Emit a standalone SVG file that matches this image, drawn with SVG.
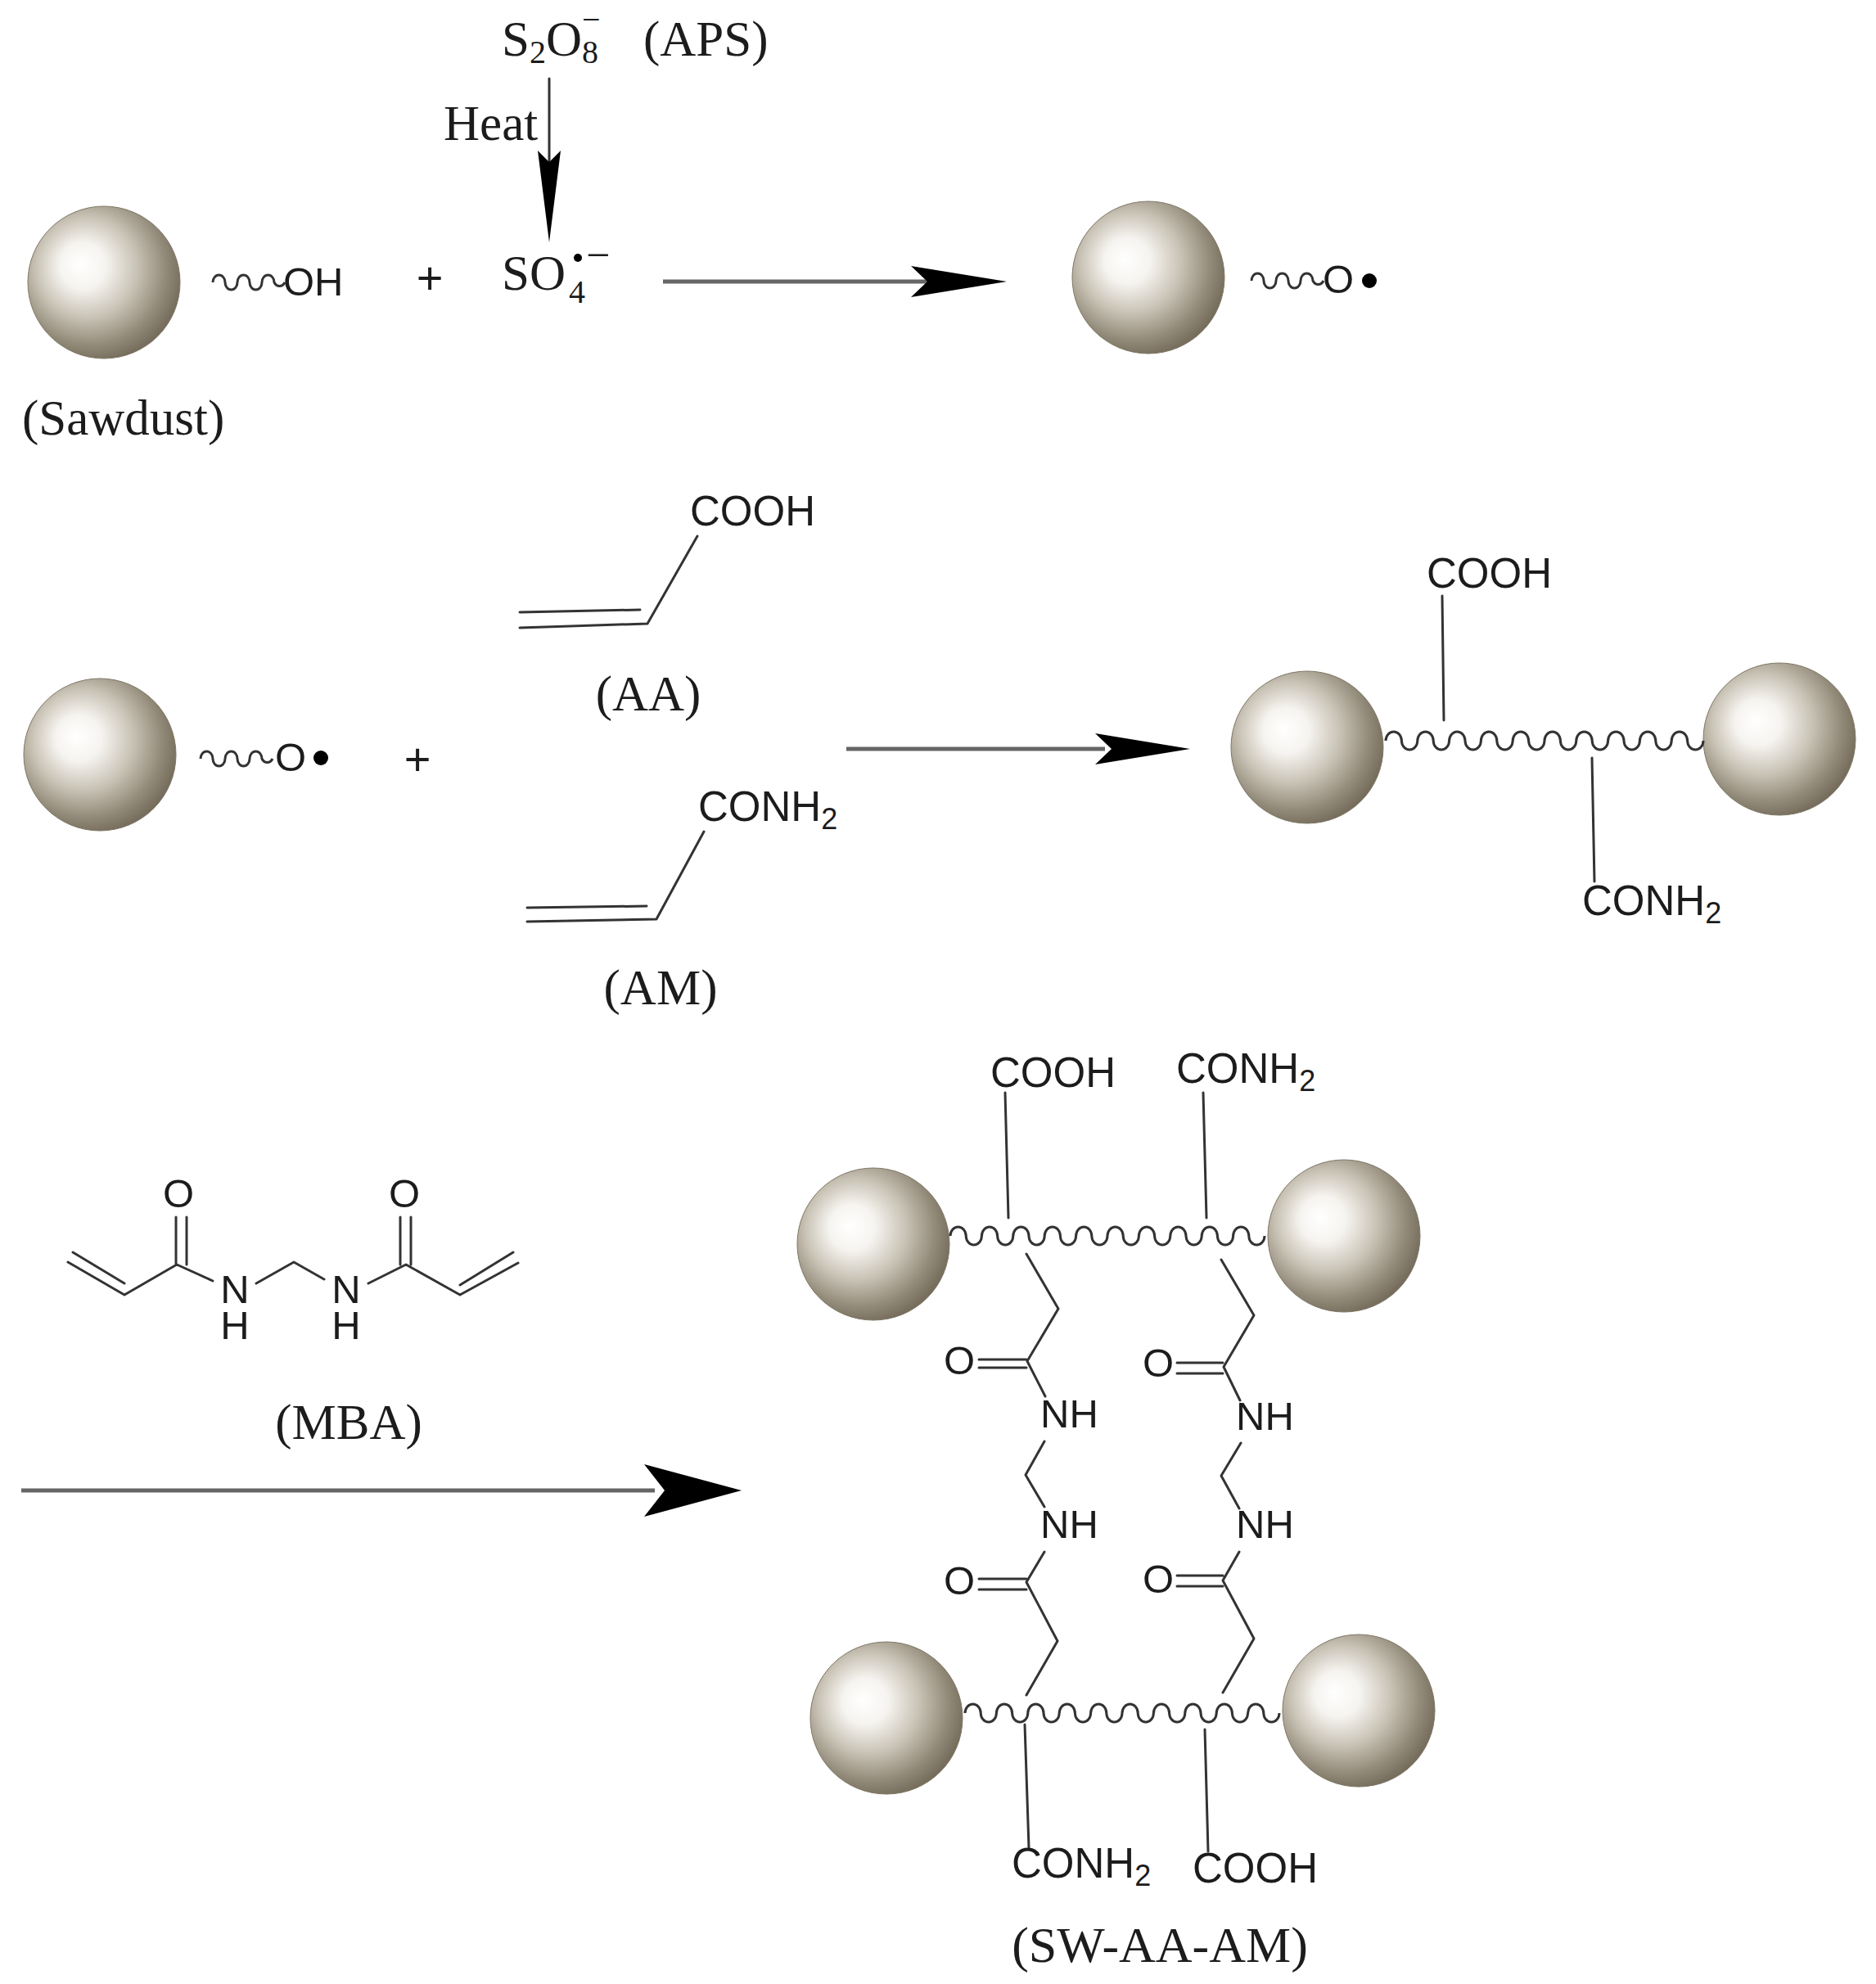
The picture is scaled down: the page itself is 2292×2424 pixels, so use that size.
<svg xmlns="http://www.w3.org/2000/svg" width="2292" height="2424" viewBox="0 0 2292 2424">
<style>
text{fill:#1c1c1c}
.s{font-family:"Liberation Serif","Times New Roman",serif;font-size:61px}
.a{font-family:"Liberation Sans",Arial,sans-serif;font-size:49px}
.ab{font-family:"Liberation Sans",Arial,sans-serif;font-size:51px}
.m{text-anchor:middle}
.ball{fill:url(#g);stroke:#7f7766;stroke-width:1}
.b{fill:none;stroke:#333;stroke-width:3;stroke-linecap:round;stroke-linejoin:round}
.w{fill:none;stroke:#333;stroke-width:3}
.ar{fill:none;stroke:#666;stroke-width:5}
.hd{fill:#000}
.dot{fill:#000}
</style>
<defs>
<radialGradient id="g" cx="0.42" cy="0.42" r="0.6" fx="0.34" fy="0.38">
<stop offset="0" stop-color="#ffffff"/>
<stop offset="0.25" stop-color="#f6f4f0"/>
<stop offset="0.55" stop-color="#c9c3b6"/>
<stop offset="0.82" stop-color="#958d7c"/>
<stop offset="1" stop-color="#766d5c"/>
</radialGradient>
</defs>
<rect width="2292" height="2424" fill="#fff"/>

<g id="connectors">
<path class="b" d="M671 96V200"/><polygon class="hd" points="671,296 657,184 671,198 685,184"/>
<path class="ar" d="M810 344H1140"/><polygon class="hd" points="1230,344 1113,325 1133,344 1113,363"/>
<path class="ar" d="M1034 915H1350"/><polygon class="hd" points="1454,915 1338,896 1358,915 1338,934"/>
<path class="ar" d="M26 1821H800"/><polygon class="hd" points="906,1821 787,1789 812,1821 787,1853"/>
</g>

<g id="sawdust">
<circle class="ball" cx="127" cy="345" r="93"/>
<path class="w" d="M260 345a7.500 9 0 0 1 15 0a7.500 9 0 0 0 15 0a7.500 9 0 0 1 15 0a7.500 9 0 0 0 15 0a7.500 9 0 0 1 15 0a7.500 9 0 0 0 13 0"/>
<text class="a" x="346" y="361">OH</text>
<text class="s" x="27" y="531">(Sawdust)</text>
</g>
<g id="plus1"><text class="ab m" x="525" y="359" style="font-size:56px">+</text></g>
<g id="aps">
<text class="s" x="613" y="68">S<tspan dy="9" font-size="40">2</tspan><tspan dy="-9">O</tspan><tspan dy="9" font-size="40">8</tspan><tspan dx="-20" y="37" font-size="40">−</tspan><tspan x="786" y="68">(APS)</tspan></text>
<text class="s" x="542" y="171">Heat</text>
</g>
<g id="so4">
<text class="s" x="613" y="354">SO<tspan dx="4" dy="16" font-size="40">4</tspan><tspan x="716" y="329" font-size="52">−</tspan></text>
<circle class="dot" cx="706" cy="315" r="5"/>
</g>
<g id="radical1">
<circle class="ball" cx="1403" cy="339" r="93"/>
<path class="w" d="M1529 343a7.500 9 0 0 1 15 0a7.500 9 0 0 0 15 0a7.500 9 0 0 1 15 0a7.500 9 0 0 0 15 0a7.500 9 0 0 1 15 0a7.500 9 0 0 0 13 0"/>
<text class="a" x="1616" y="358">O</text>
<circle class="dot" cx="1673" cy="343" r="9"/>
</g>

<g id="radical2">
<circle class="ball" cx="122" cy="922" r="93"/>
<path class="w" d="M245 927a7.500 9 0 0 1 15 0a7.500 9 0 0 0 15 0a7.500 9 0 0 1 15 0a7.500 9 0 0 0 15 0a7.500 9 0 0 1 15 0a7.500 9 0 0 0 13 0"/>
<text class="a" x="336" y="942">O</text>
<circle class="dot" cx="392" cy="926" r="9"/>
</g>
<g id="plus2"><text class="ab m" x="510" y="947" style="font-size:56px">+</text></g>
<g id="aa">
<path class="b" d="M635 748L782 745M635 767L791 762L852 655"/>
<text class="ab" x="843" y="642">COOH</text>
<text class="s m" x="792" y="868">(AA)</text>
</g>
<g id="am">
<path class="b" d="M644 1109L790 1107M644 1126L802 1123L860 1016"/>
<text class="ab" x="853" y="1003">CONH<tspan dy="10" font-size="36">2</tspan></text>
<text class="s m" x="807" y="1227">(AM)</text>
</g>
<g id="graft">
<circle class="ball" cx="1597" cy="913" r="93"/>
<circle class="ball" cx="2174" cy="903" r="93"/>
<path class="w" d="M1693 905a9.700 11 0 0 1 19.400 0a9.700 11 0 0 0 19.400 0a9.700 11 0 0 1 19.400 0a9.700 11 0 0 0 19.400 0a9.700 11 0 0 1 19.400 0a9.700 11 0 0 0 19.400 0a9.700 11 0 0 1 19.400 0a9.700 11 0 0 0 19.400 0a9.700 11 0 0 1 19.400 0a9.700 11 0 0 0 19.400 0a9.700 11 0 0 1 19.400 0a9.700 11 0 0 0 19.400 0a9.700 11 0 0 1 19.400 0a9.700 11 0 0 0 19.400 0a9.700 11 0 0 1 19.400 0a9.700 11 0 0 0 19.400 0a9.700 11 0 0 1 19.400 0a9.700 11 0 0 0 19.400 0a9.700 11 0 0 1 19.400 0a9.700 11 0 0 0 19.400 0"/>
<path class="b" d="M1762 728L1764 880M1945 926L1948 1077"/>
<text class="ab" x="1743" y="718">COOH</text>
<text class="ab" x="1933" y="1118">CONH<tspan dy="10" font-size="36">2</tspan></text>
</g>

<g id="mba">
<path class="b" d="M83 1542L152 1582L216 1545L260 1565M89 1530L152 1568M215 1487V1545M228 1487V1545M313 1568L359 1542L396 1563M450 1568L496 1545L562 1582L633 1543M562 1570L627 1530M489 1487V1545M502 1487V1545"/>
<text class="a m" x="218" y="1475">O</text>
<text class="a m" x="494" y="1475">O</text>
<text class="a m" x="287" y="1592">N<tspan x="287" y="1636">H</tspan></text>
<text class="a m" x="423" y="1592">N<tspan x="423" y="1636">H</tspan></text>
<text class="s m" x="426" y="1758">(MBA)</text>
</g>

<g id="network">
<circle class="ball" cx="1067" cy="1520" r="93"/>
<circle class="ball" cx="1642" cy="1510" r="93"/>
<circle class="ball" cx="1083" cy="2099" r="93"/>
<circle class="ball" cx="1660" cy="2090" r="93"/>
<path class="w" d="M1161 1510a9.600 11 0 0 1 19.200 0a9.600 11 0 0 0 19.200 0a9.600 11 0 0 1 19.200 0a9.600 11 0 0 0 19.200 0a9.600 11 0 0 1 19.200 0a9.600 11 0 0 0 19.200 0a9.600 11 0 0 1 19.200 0a9.600 11 0 0 0 19.200 0a9.600 11 0 0 1 19.200 0a9.600 11 0 0 0 19.200 0a9.600 11 0 0 1 19.200 0a9.600 11 0 0 0 19.200 0a9.600 11 0 0 1 19.200 0a9.600 11 0 0 0 19.200 0a9.600 11 0 0 1 19.200 0a9.600 11 0 0 0 19.200 0a9.600 11 0 0 1 19.200 0a9.600 11 0 0 0 19.200 0a9.600 11 0 0 1 19.200 0a9.600 11 0 0 0 19.200 0"/>
<path class="w" d="M1179 2093a9.600 11 0 0 1 19.200 0a9.600 11 0 0 0 19.200 0a9.600 11 0 0 1 19.200 0a9.600 11 0 0 0 19.200 0a9.600 11 0 0 1 19.200 0a9.600 11 0 0 0 19.200 0a9.600 11 0 0 1 19.200 0a9.600 11 0 0 0 19.200 0a9.600 11 0 0 1 19.200 0a9.600 11 0 0 0 19.200 0a9.600 11 0 0 1 19.200 0a9.600 11 0 0 0 19.200 0a9.600 11 0 0 1 19.200 0a9.600 11 0 0 0 19.200 0a9.600 11 0 0 1 19.200 0a9.600 11 0 0 0 19.200 0a9.600 11 0 0 1 19.200 0a9.600 11 0 0 0 19.200 0a9.600 11 0 0 1 19.200 0a9.600 11 0 0 0 19.200 0"/>
<path class="b" d="M1228 1335L1232 1488M1470 1335L1474 1488M1252 2107L1257 2258M1472 2113L1476 2262"/>
<path class="b" d="M1254 1532L1293 1599L1255 1663L1277 1706M1196 1661H1254M1196 1671H1254M1276 1761L1253 1802L1276 1841M1276 1896L1254 1933L1292 2005L1254 2071M1196 1929H1254M1196 1942H1254"/>
<path class="b" d="M1492 1539L1532 1607L1495 1670L1515 1711M1438 1665H1494M1438 1678H1494M1516 1763L1492 1803L1514 1843M1514 1896L1494 1931L1532 2002L1494 2068M1438 1925H1494M1438 1938H1494"/>
<text class="ab" x="1210" y="1328">COOH</text>
<text class="ab" x="1437" y="1323">CONH<tspan dy="10" font-size="36">2</tspan></text>
<text class="a" x="1153" y="1679">O</text>
<text class="a" x="1396" y="1682">O</text>
<text class="a" x="1271" y="1744">NH</text>
<text class="a" x="1510" y="1747">NH</text>
<text class="a" x="1271" y="1879">NH</text>
<text class="a" x="1510" y="1879">NH</text>
<text class="a" x="1153" y="1948">O</text>
<text class="a" x="1396" y="1946">O</text>
<text class="ab" x="1236" y="2294">CONH<tspan dy="10" font-size="36">2</tspan></text>
<text class="ab" x="1457" y="2300">COOH</text>
<text class="s m" x="1417" y="2397" style="font-size:62px">(SW-AA-AM)</text>
</g>
</svg>
